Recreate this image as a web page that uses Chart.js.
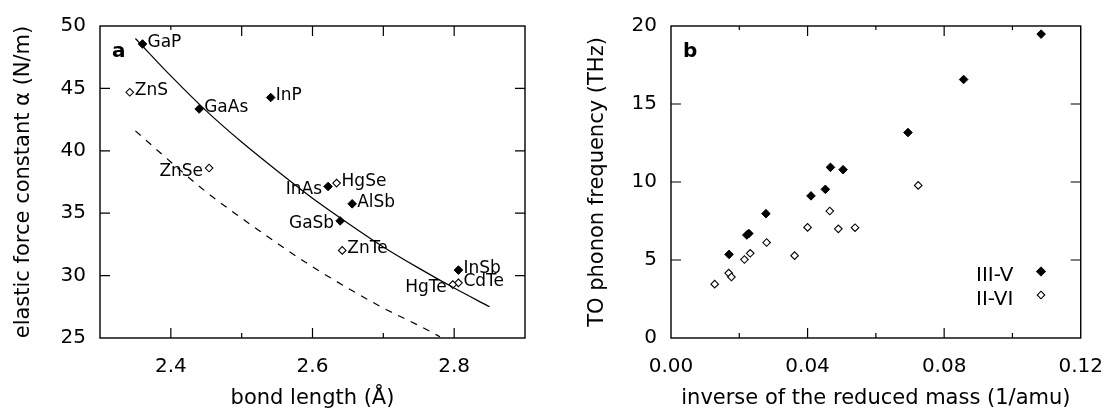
<!DOCTYPE html>
<html>
<head>
<meta charset="utf-8">
<script src="https://cdn.jsdelivr.net/npm/chart.js@4.4.1/dist/chart.umd.min.js"></script>
<style>
  html, body { margin: 0; padding: 0; background: #fff; }
  #wrap { width: 1120px; height: 412px; display: flex; }
  canvas { display: block; }
</style>
</head>
<body>
<div id="wrap">
  <canvas id="chartA" width="560" height="412"></canvas>
  <canvas id="chartB" width="560" height="412"></canvas>
</div>
<script>
// panel a: bond length vs elastic force constant
var iiivNames = ["GaP", "GaAs", "InP", "InAs", "AlSb", "GaSb", "InSb"];
var iiivBond = [2.360, 2.440, 2.541, 2.622, 2.656, 2.639, 2.806];
var iiivAlpha = [48.56, 43.35, 44.27, 37.14, 35.75, 34.38, 30.44];

var iiviNames = ["ZnS", "ZnSe", "HgSe", "ZnTe", "CdTe", "HgTe"];
var iiviBond = [2.342, 2.454, 2.634, 2.642, 2.806, 2.798];
var iiviAlpha = [44.69, 38.62, 37.41, 32.02, 29.42, 29.28];

// curves
var solidBond = [2.35, 2.40, 2.45, 2.50, 2.55, 2.60, 2.65, 2.70, 2.75, 2.80, 2.85];
var solidAlpha = [49.0, 46.0, 43.2, 40.7, 38.4, 36.2, 34.2, 32.3, 30.6, 29.0, 27.5];
var dashBond = [2.35, 2.40, 2.45, 2.50, 2.55, 2.60, 2.65, 2.70, 2.75, 2.78];
var dashAlpha = [41.6, 39.1, 36.7, 34.6, 32.6, 30.7, 29.0, 27.4, 26.0, 25.1];

// panel b: inverse reduced mass vs TO phonon frequency
var iiivInvMass = [0.0170, 0.0222, 0.0228, 0.0278, 0.0410, 0.0452, 0.0467, 0.0504, 0.0694, 0.0857, 0.1084];
var iiivFreq = [5.36, 6.60, 6.70, 7.97, 9.11, 9.53, 10.94, 10.79, 13.17, 16.57, 19.48];
var iiviInvMass = [0.0128, 0.0169, 0.0177, 0.0215, 0.0232, 0.0280, 0.0362, 0.0400, 0.0465, 0.0490, 0.0539, 0.0724];
var iiviFreq = [3.45, 4.16, 3.91, 5.03, 5.43, 6.12, 5.28, 7.09, 8.14, 7.00, 7.07, 9.78];

var legendNames = ["III-V", "II-VI"];

Chart.defaults.font.family = "'DejaVu Sans', sans-serif";
Chart.defaults.color = "#000";

function pts(xs, ys) {
  return xs.map(function (x, i) { return { x: x, y: ys[i] }; });
}

// label side for panel a names (r = right of point, l = left)
var labelSide = { ZnSe: "l", InAs: "l", GaSb: "l", HgTe: "l" };

function diamond(ctx, x, y, r, filled) {
  ctx.beginPath();
  ctx.moveTo(x, y - r);
  ctx.lineTo(x + r, y);
  ctx.lineTo(x, y + r);
  ctx.lineTo(x - r, y);
  ctx.closePath();
  ctx.fillStyle = filled ? "#000" : "#fff";
  ctx.fill();
  ctx.lineWidth = 1.1;
  ctx.strokeStyle = "#000";
  ctx.stroke();
}

var framePlugin = {
  id: "frame",
  afterDraw: function (chart, args, opts) {
    var ctx = chart.ctx;
    var a = chart.chartArea;
    var sx = chart.scales.x, sy = chart.scales.y;
    ctx.save();
    ctx.strokeStyle = "#000";
    ctx.lineWidth = 1.2;
    ctx.beginPath();
    opts.xMajor.forEach(function (v) {
      var px = sx.getPixelForValue(v);
      ctx.moveTo(px, a.bottom); ctx.lineTo(px, a.bottom - 10);
      var tl = opts.topShort && opts.topShort.indexOf(v) >= 0 ? 4 : 10;
      ctx.moveTo(px, a.top); ctx.lineTo(px, a.top + tl);
    });
    opts.xMinor.forEach(function (v) {
      var px = sx.getPixelForValue(v);
      ctx.moveTo(px, a.bottom); ctx.lineTo(px, a.bottom - 5);
      ctx.moveTo(px, a.top); ctx.lineTo(px, a.top + opts.topMinor);
    });
    opts.yMajor.forEach(function (v) {
      var py = sy.getPixelForValue(v);
      ctx.moveTo(a.left, py); ctx.lineTo(a.left + 10, py);
      ctx.moveTo(a.right, py); ctx.lineTo(a.right - 10, py);
    });
    ctx.stroke();
    ctx.lineWidth = 1.4;
    ctx.strokeRect(a.left, a.top, a.right - a.left, a.bottom - a.top);

    ctx.fillStyle = "#000";
    ctx.font = "bold 20px 'DejaVu Sans'";
    ctx.textAlign = "left";
    ctx.textBaseline = "alphabetic";
    ctx.fillText(opts.panel, a.left + 12, a.top + 31);
    ctx.restore();
  }
};

var namesPlugin = {
  id: "names",
  afterDatasetsDraw: function (chart) {
    var ctx = chart.ctx;
    var sx = chart.scales.x, sy = chart.scales.y;
    ctx.save();
    ctx.font = "17px 'DejaVu Sans'";
    ctx.fillStyle = "#000";
    ctx.textBaseline = "alphabetic";
    function put(names, xs, ys) {
      names.forEach(function (n, i) {
        var px = sx.getPixelForValue(xs[i]);
        var py = sy.getPixelForValue(ys[i]);
        if (labelSide[n] === "l") {
          ctx.textAlign = "right";
          ctx.fillText(n, px - 6, py + 7.5);
        } else {
          ctx.textAlign = "left";
          ctx.fillText(n, px + 5, py + 2.8);
        }
      });
    }
    put(iiivNames, iiivBond, iiivAlpha);
    put(iiviNames, iiviBond, iiviAlpha);
    ctx.restore();
  }
};

var legendPlugin = {
  id: "keybox",
  afterDraw: function (chart) {
    var ctx = chart.ctx;
    ctx.save();
    ctx.font = "20px 'DejaVu Sans'";
    ctx.fillStyle = "#000";
    ctx.textAlign = "left";
    ctx.textBaseline = "alphabetic";
    ctx.fillText(legendNames[0], 416, 281);
    ctx.fillText(legendNames[1], 416, 304.5);
    diamond(ctx, 481, 271.5, 4.3, true);
    diamond(ctx, 481, 295, 3.8, false);
    ctx.restore();
  }
};

function near(v, list) {
  return list.some(function (t) { return Math.abs(t - v) < 1e-6; });
}

var filledStyle = {
  pointStyle: "rectRot", pointRadius: 4.3, pointBackgroundColor: "#000",
  pointBorderColor: "#000", pointBorderWidth: 1, showLine: false
};
var openStyle = {
  pointStyle: "rectRot", pointRadius: 3.8, pointBackgroundColor: "#fff",
  pointBorderColor: "#000", pointBorderWidth: 1.1, showLine: false
};

new Chart(document.getElementById("chartA"), {
  type: "scatter",
  data: {
    datasets: [
      { data: pts(solidBond, solidAlpha), showLine: true, pointRadius: 0, borderColor: "#000", borderWidth: 1.2, cubicInterpolationMode: "monotone" },
      { data: pts(dashBond, dashAlpha), showLine: true, pointRadius: 0, borderColor: "#000", borderWidth: 1.2, borderDash: [7, 7], cubicInterpolationMode: "monotone" },
      Object.assign({ data: pts(iiviBond, iiviAlpha) }, openStyle),
      Object.assign({ data: pts(iiivBond, iiivAlpha) }, filledStyle)
    ]
  },
  options: {
    responsive: false,
    animation: false,
    layout: { padding: { top: 21, right: 35, left: 0, bottom: 0 } },
    plugins: {
      legend: { display: false },
      tooltip: { enabled: false },
      frame: { panel: "a", xMajor: [2.4, 2.6, 2.8], xMinor: [2.5, 2.7], yMajor: [30, 35, 40, 45], topShort: [2.4], topMinor: 10 }
    },
    scales: {
      x: {
        type: "linear", min: 2.3, max: 2.9,
        afterFit: function (s) { s.height = 74; },
        grid: { display: false, drawTicks: false },
        border: { display: false },
        ticks: {
          stepSize: 0.1, padding: 17, autoSkip: false, maxRotation: 0,
          font: { size: 20 },
          callback: function (v) { return near(v, [2.4, 2.6, 2.8]) ? v.toFixed(1) : ""; }
        },
        title: { display: true, text: "bond length (Å)", font: { size: 21 }, padding: { top: 0, bottom: 1 } }
      },
      y: {
        min: 25, max: 50,
        afterFit: function (s) { s.width = 100; },
        grid: { display: false, drawTicks: false },
        border: { display: false },
        ticks: { stepSize: 5, padding: 14, font: { size: 20 } },
        title: { display: true, text: "elastic force constant α (N/m)", font: { size: 21 }, padding: { top: 11, bottom: 0 } }
      }
    }
  },
  plugins: [framePlugin, namesPlugin]
});

new Chart(document.getElementById("chartB"), {
  type: "scatter",
  data: {
    datasets: [
      Object.assign({ label: legendNames[1], data: pts(iiviInvMass, iiviFreq) }, openStyle),
      Object.assign({ label: legendNames[0], data: pts(iiivInvMass, iiivFreq) }, filledStyle)
    ]
  },
  options: {
    responsive: false,
    animation: false,
    layout: { padding: { top: 21, right: 24, left: 0, bottom: 0 } },
    plugins: {
      legend: { display: false },
      tooltip: { enabled: false },
      frame: { panel: "b", xMajor: [0.04, 0.08], xMinor: [0.02, 0.06, 0.10], yMajor: [5, 10, 15], topMinor: 4 }
    },
    scales: {
      x: {
        type: "linear", min: 0, max: 0.12,
        afterFit: function (s) { s.height = 74; },
        grid: { display: false, drawTicks: false },
        border: { display: false },
        ticks: {
          stepSize: 0.02, padding: 17, autoSkip: false, maxRotation: 0,
          font: { size: 20 },
          callback: function (v) { return near(v, [0, 0.04, 0.08, 0.12]) ? v.toFixed(2) : ""; }
        },
        title: { display: true, text: "inverse of the reduced mass (1/amu)", font: { size: 21 }, padding: { top: 0, bottom: 1 } }
      },
      y: {
        min: 0, max: 20,
        afterFit: function (s) { s.width = 111; },
        grid: { display: false, drawTicks: false },
        border: { display: false },
        ticks: { stepSize: 5, padding: 14, font: { size: 20 } },
        title: { display: true, text: "TO phonon frequency (THz)", font: { size: 21 }, padding: { top: 25, bottom: 0 } }
      }
    }
  },
  plugins: [framePlugin, legendPlugin]
});
</script>
</body>
</html>
